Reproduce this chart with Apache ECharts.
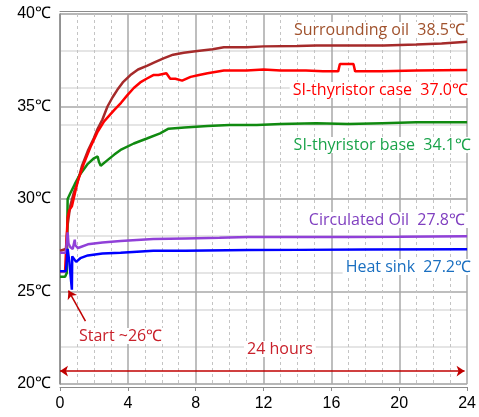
<!DOCTYPE html>
<html><head><meta charset="utf-8">
<script src="https://cdn.jsdelivr.net/npm/echarts@6/dist/echarts.min.js"></script>
<style>html,body{margin:0;padding:0;background:#fff}#c{width:479px;height:417px}</style>
</head><body><div id="c"></div>
<script>
// Hours and temperatures (°C)
const oilHours  = [0,0.35,0.45,0.6,0.8,1.06,1.3,1.64,2.0,2.22,2.5,2.8,3.1,3.38,3.7,4.15,4.6,5.12,5.6,6.1,6.67,7.3,8.1,9.0,9.66,11,12,14,15.1,17,19.1,21,22.5,24];
const oilTemps  = [27.2,27.3,28.6,29.6,30.3,31.0,31.8,32.6,33.3,33.8,34.3,35.0,35.5,35.9,36.3,36.7,37.0,37.2,37.4,37.6,37.8,37.9,38.0,38.1,38.2,38.2,38.25,38.27,38.3,38.3,38.3,38.35,38.4,38.5];
const caseHours = [0,0.3,0.4,0.45,0.55,0.7,0.9,1.06,1.4,1.84,2.2,2.6,3.19,3.6,3.96,4.35,4.73,5.1,5.5,5.8,6.27,6.5,6.8,7.2,7.7,8.2,8.7,9.66,11,12,13,14.5,15.5,16.4,16.5,17.3,17.4,19,21,24];
const caseTemps = [26.1,26.1,26.0,29.0,29.4,29.6,30.4,31.0,31.9,32.9,33.6,34.2,34.8,35.2,35.6,36.0,36.3,36.5,36.7,36.7,36.8,36.5,36.5,36.4,36.6,36.7,36.8,36.95,36.95,37.0,36.95,36.95,36.9,36.9,37.3,37.3,36.9,36.9,36.95,36.97];
const baseHours = [0,0.3,0.4,0.45,0.6,0.87,1.16,1.64,2.0,2.22,2.3,2.4,2.8,3.2,3.57,4.35,5.12,5.9,6.4,7.34,8.7,10,11.6,13,15.1,17,19,21,24];
const baseTemps = [25.8,25.8,26.0,30.0,30.3,30.8,31.3,31.9,32.2,32.3,32.0,31.8,32.1,32.4,32.65,33.0,33.27,33.55,33.8,33.87,33.95,34.0,34.0,34.05,34.1,34.05,34.1,34.15,34.15];
const circHours = [0,0.35,0.45,0.5,0.6,0.75,0.87,0.9,1.06,1.64,2.5,3.57,5.5,7.4,9.4,11.1,14,17,20,24];
const circTemps = [27.1,27.1,28.2,27.6,27.4,27.3,27.8,27.5,27.35,27.55,27.65,27.73,27.84,27.87,27.9,27.95,27.95,27.95,27.96,27.98];
const sinkHours = [0,0.35,0.45,0.55,0.7,0.72,0.8,0.95,1.2,1.64,2.5,3.57,5.5,7.4,11.1,14,18,24];
const sinkTemps = [26.1,26.1,27.3,26.6,25.1,26.9,26.8,26.6,26.8,26.95,27.05,27.1,27.2,27.2,27.24,27.25,27.27,27.28];
const xTicks = [0,4,8,12,16,20,24];
const yTicks = [20,25,30,35,40];
const labels = ['Surrounding oil  38.5℃','SI-thyristor case  37.0℃','SI-thyristor base  34.1℃','Circulated Oil  27.8℃','Heat sink  27.2℃'];
const startText = 'Start ~26℃';
const spanText = '24 hours';

const zip = (a,b) => a.map((v,i)=>[v,b[i]]);
const chart = echarts.init(document.getElementById('c'), null, {renderer:'canvas'});
const gridCol = '#a8a8a8';
const mk = (name, h, t, color) => ({
  name, type:'line', data: zip(h,t), showSymbol:false, symbol:'none',
  lineStyle:{color, width:2.5}, itemStyle:{color}, z:3, animation:false
});
const font = '16px "Open Sans"';
const txt = (text, x, y, color, align) => ({type:'text', x, y, z:10,
  style:{text, align, verticalAlign:'middle', fill:color, font, backgroundColor:'#fff', padding:[0,3]}});
const lab = (text, x, y, color) => txt(text, x, y, color, 'right');

const annot = mk('Heat sink', sinkHours, sinkTemps, '#0000ff');
annot.markLine = {
  silent:true, animation:false, label:{show:false},
  lineStyle:{color:'#c00000', width:1.5, type:'solid'},
  symbolSize:8,
  data:[
    [{coord:[0,20.7], symbol:'arrow'},{coord:[23.85,20.7], symbol:'arrow'}],
    [{coord:[1.5,23.4], symbol:'none'},{coord:[0.5,25.05], symbol:'arrow'}]
  ]
};

chart.setOption({
  animation:false,
  grid:{left:60, right:5, top:14, bottom:33, containLabel:false},
  xAxis:[
    {type:'value', min:xTicks[0], max:xTicks[xTicks.length-1], interval:4, position:'bottom', offset:3,
     axisLine:{show:true, lineStyle:{color:'#8c8c8c', width:1}},
     axisTick:{show:true, length:4, lineStyle:{color:'#8c8c8c'}},
     axisLabel:{fontSize:16, color:'#000', fontFamily:'Liberation Sans', margin:9},
     splitLine:{show:true, lineStyle:{color:gridCol, width:1.5}},
     minorTick:{show:false, splitNumber:4},
     minorSplitLine:{show:true, lineStyle:{color:'#c4c4c4', width:1, type:[3,3]}}, z:1},
    {type:'value', min:0, max:24, position:'top', offset:3,
     axisLine:{show:true, lineStyle:{color:'#8c8c8c', width:1}},
     axisTick:{show:false}, axisLabel:{show:false}, splitLine:{show:false}}
  ],
  yAxis:[
    {type:'value', min:yTicks[0], max:yTicks[yTicks.length-1], interval:5, position:'left',
     axisLine:{show:true, lineStyle:{color:'#8c8c8c', width:1.5}},
     axisTick:{show:false},
     axisLabel:{fontSize:16, color:'#000', fontFamily:'Liberation Sans', margin:9, formatter:'{value}℃'},
     splitLine:{show:true, lineStyle:{color:gridCol, width:1.5}}, z:1},
    {type:'value', min:20, max:40, interval:2, position:'right', offset:3,
     axisLine:{show:true, lineStyle:{color:'#8c8c8c', width:1}},
     axisTick:{show:false}, axisLabel:{show:false},
     splitLine:{show:true, lineStyle:{color:'#dcdcdc', width:1.5}}, z:0}
  ],
  series:[
    mk('Surrounding oil', oilHours, oilTemps, '#a52a2a'),
    mk('SI-thyristor base', baseHours, baseTemps, '#108a10'),
    mk('SI-thyristor case', caseHours, caseTemps, '#ff0000'),
    mk('Circulated Oil', circHours, circTemps, '#9040d8'),
    annot
  ],
  graphic:[
    lab(labels[0], 468, 30, '#a0522d'),
    lab(labels[1], 471, 90, '#ff0000'),
    lab(labels[2], 474, 145, '#1aa34a'),
    lab(labels[3], 468, 220, '#8040c0'),
    lab(labels[4], 474, 267, '#1a6fc0'),
    txt(startText, 76, 336, '#c8202a', 'left'),
    txt(spanText, 244, 349, '#c8202a', 'left')
  ]
});
</script></body></html>
